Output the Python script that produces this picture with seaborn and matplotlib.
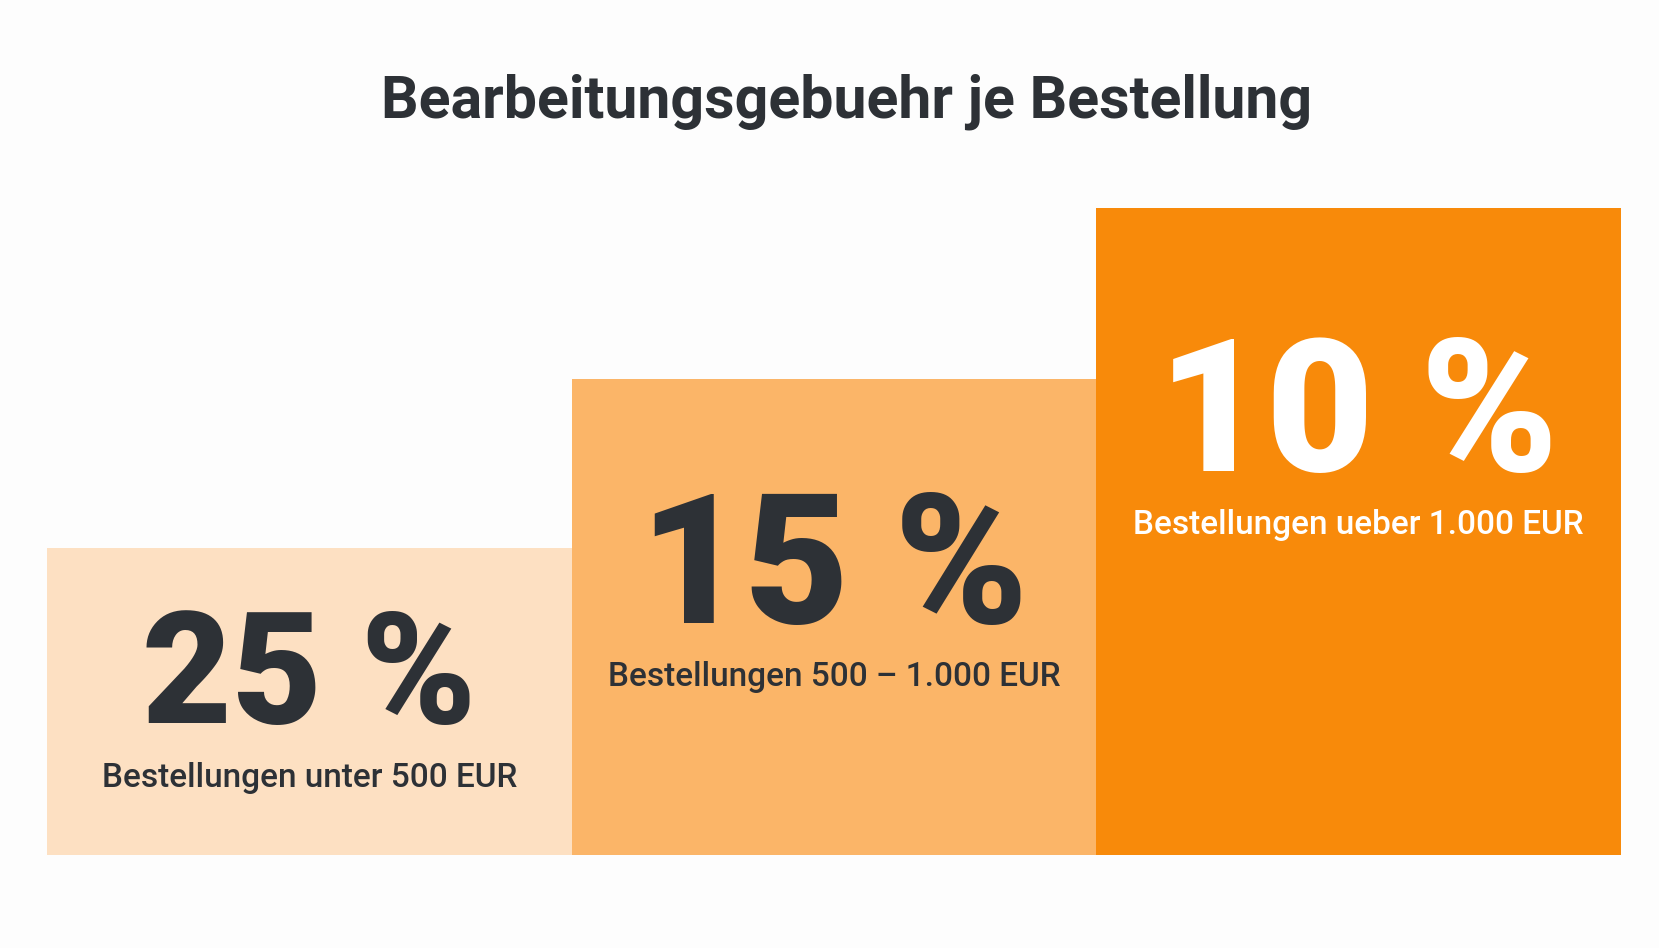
import matplotlib
matplotlib.use("Agg")
import matplotlib.pyplot as plt
import seaborn as sns
import pandas as pd

# ---- data ----
categories = ["unter 500", "500 - 1.000", "ueber 1.000"]
fee_labels = ["25 %", "15 %", "10 %"]
descriptions = ["Bestellungen unter 500 EUR",
                "Bestellungen 500 \u2013 1.000 EUR",
                "Bestellungen ueber 1.000 EUR"]
step_heights = [47.5, 73.5, 100.0]
bar_colors = ["#FDE0C2", "#FBB568", "#F88A0A"]
title = "Bearbeitungsgebuehr je Bestellung"

# ---- style ----
sns.set_theme(style="white")
plt.rcParams["font.family"] = ["Roboto", "DejaVu Sans"]

W, H = 1659, 948
fig = plt.figure(figsize=(W / 100, H / 100), dpi=100, facecolor="#FDFDFD")
ax = fig.add_axes([47 / W, (H - 855) / H, (1621 - 47) / W, (855 - 208) / H])
ax.set_facecolor("#FDFDFD")

df = pd.DataFrame({"cat": categories, "h": step_heights})
sns.barplot(data=df, x="cat", y="h", hue="cat", palette=bar_colors,
            width=1.0, saturation=1, linewidth=0, legend=False, ax=ax)

ax.set_xlim(-0.5, 2.5)
ax.set_ylim(0, 100)
ax.set_axis_off()

dark = "#2D3136"
num_colors = [dark, dark, "#FFFFFF"]
num_sizes = [112, 130, 134]
num_y = [20.4, 35.9, 59.4]
desc_y = [10.5, 26.1, 49.6]

for i in range(3):
    ax.text(i, num_y[i], fee_labels[i], ha="center", va="baseline",
            fontsize=num_sizes[i], fontweight="black", color=num_colors[i])
    ax.text(i, desc_y[i], descriptions[i], ha="center", va="baseline",
            fontsize=24, fontweight="medium", color=num_colors[i])

fig.text(847 / W, (H - 117) / H, title, ha="center", va="baseline",
         fontsize=42.5, fontweight="bold", color=dark)

fig.savefig("out.png", dpi=100, facecolor=fig.get_facecolor())
